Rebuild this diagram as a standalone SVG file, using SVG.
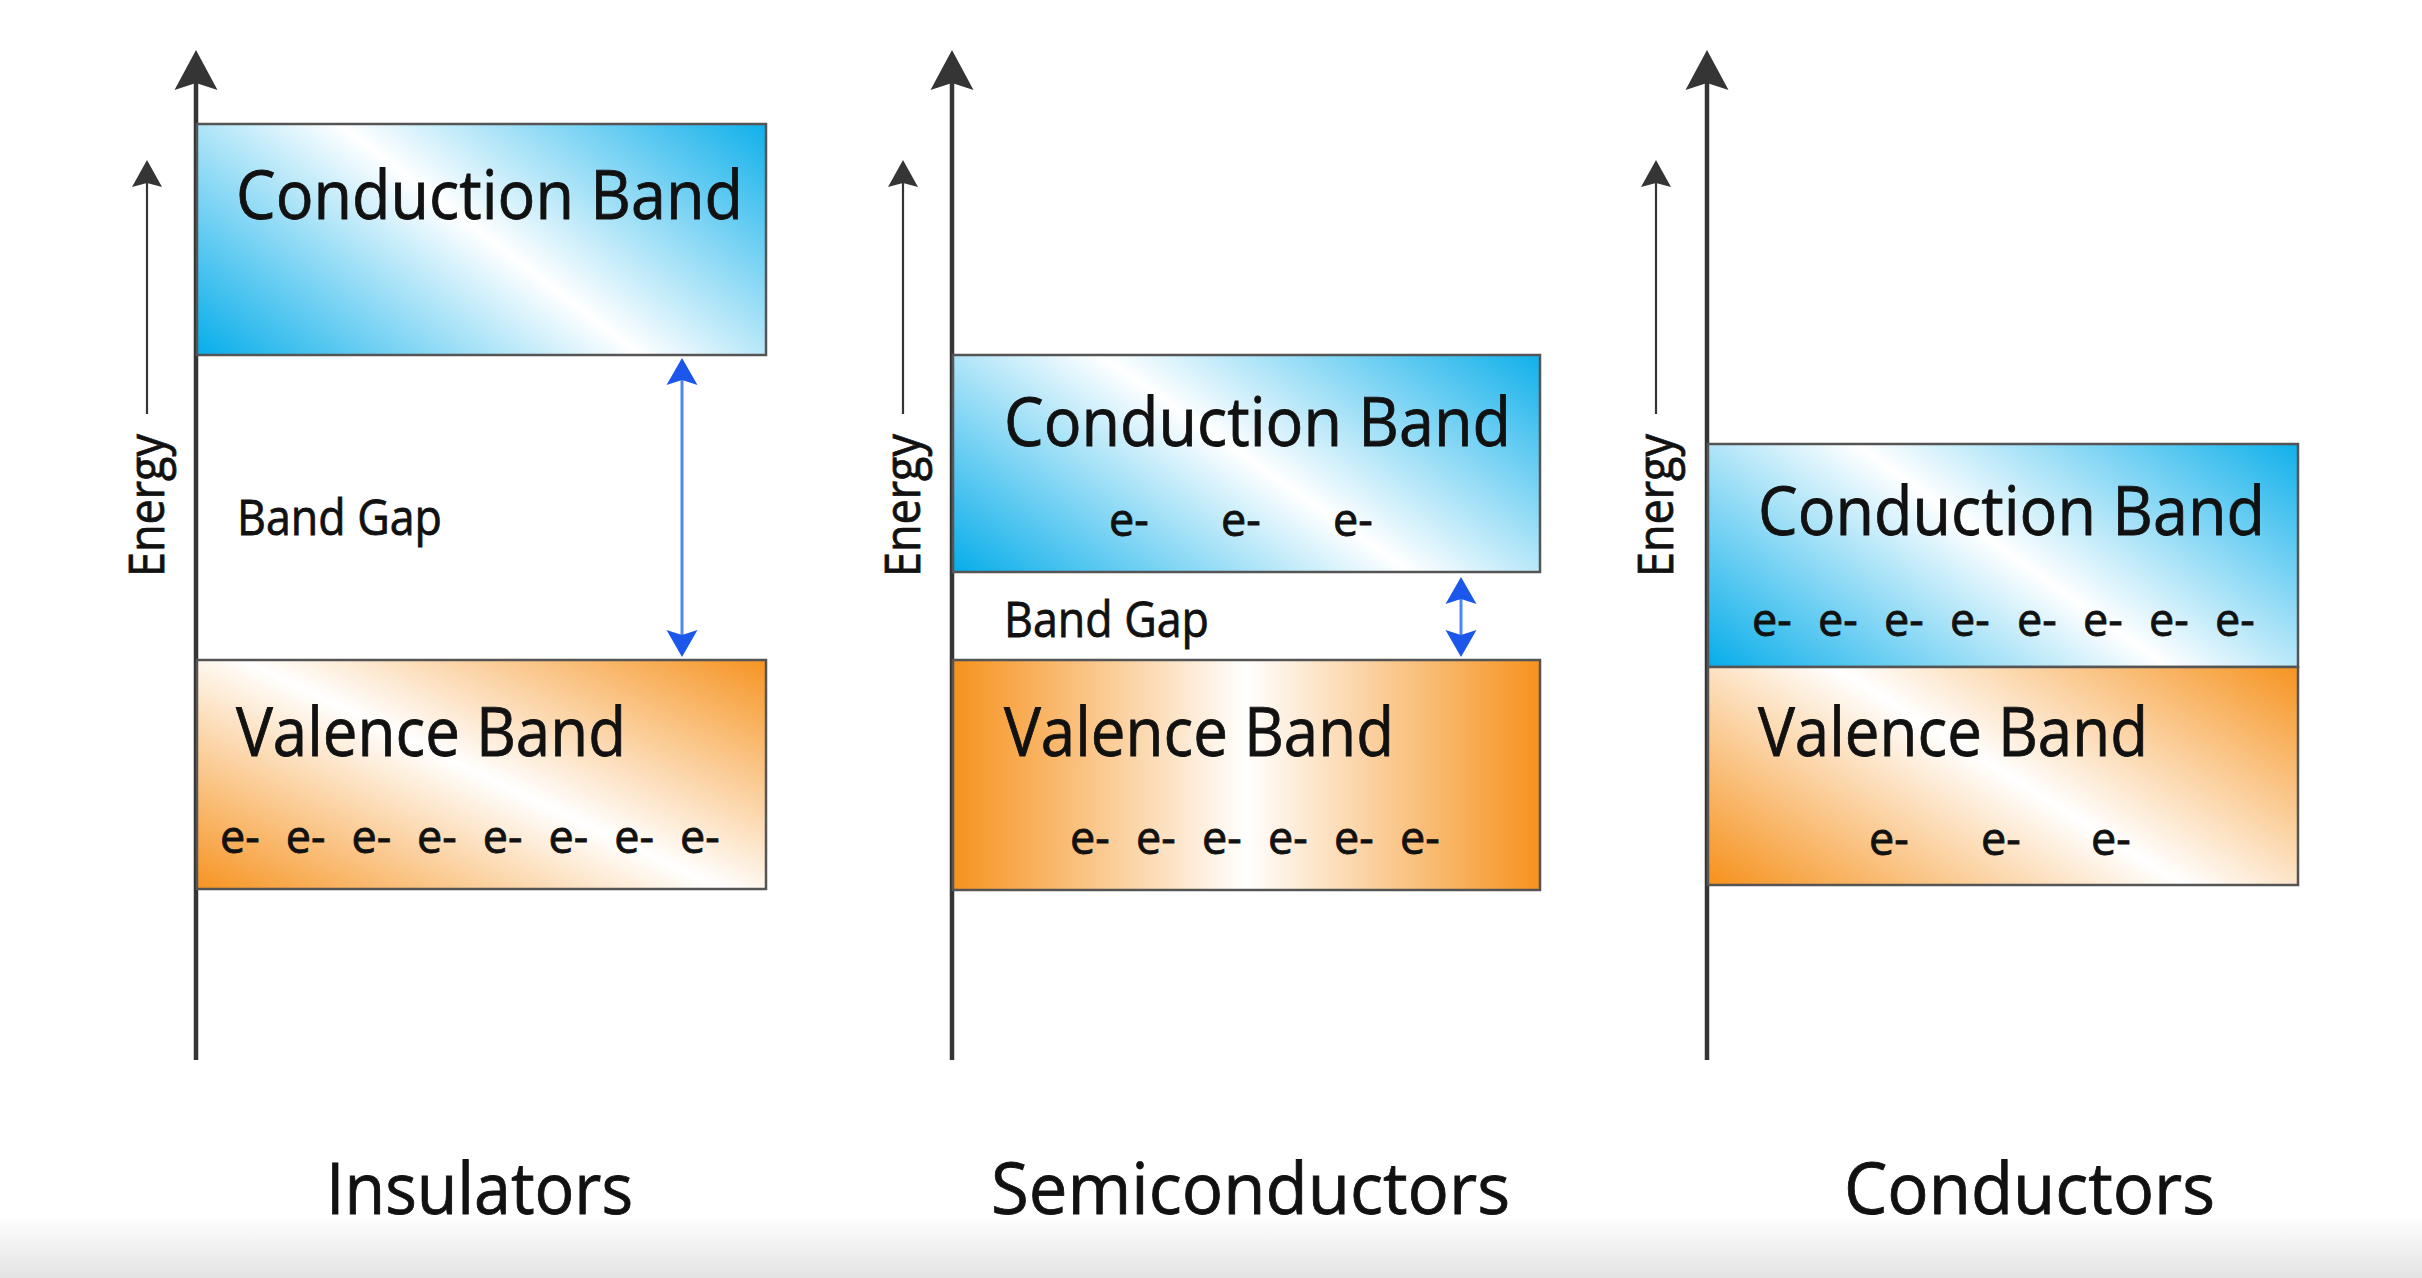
<svg xmlns="http://www.w3.org/2000/svg" width="2422" height="1278" viewBox="0 0 2422 1278">
<defs>
<style>
.axis{stroke:#353535;stroke-width:4.5;fill:none}
.eaxis{stroke:#353535;stroke-width:2.2;fill:none}
.gap{stroke:#4f86ee;stroke-width:3;fill:none}
.band{stroke:#555;stroke-width:2.5}
.lbl{font-family:"Open Sans","Noto Sans",sans-serif;fill:#111;stroke:#111;stroke-width:0.8}
.big{font-size:67px}
.mid{font-size:49px}
.el{font-size:45px}
.ttl{font-size:71px}
</style>
<linearGradient id="gCond" x1="-0.085" y1="0.818" x2="1.115" y2="0.182">
<stop offset="0" stop-color="#0aaeea"/>
<stop offset="0.5" stop-color="#ffffff"/>
<stop offset="1" stop-color="#0aaeea"/>
</linearGradient>
<linearGradient id="gVal" x1="-0.05" y1="0.962" x2="1.05" y2="0.038">
<stop offset="0" stop-color="#f6921e"/>
<stop offset="0.5" stop-color="#ffffff"/>
<stop offset="1" stop-color="#f6921e"/>
</linearGradient>
<linearGradient id="gValC" x1="-0.08" y1="0.85" x2="1.1" y2="0.15">
<stop offset="0" stop-color="#f6921e"/>
<stop offset="0.5" stop-color="#ffffff"/>
<stop offset="1" stop-color="#f6921e"/>
</linearGradient>
<linearGradient id="gValH" x1="0" y1="0" x2="1" y2="0">
<stop offset="0" stop-color="#f6921e"/>
<stop offset="0.5" stop-color="#ffffff"/>
<stop offset="1" stop-color="#f6921e"/>
</linearGradient>
<linearGradient id="gShadow" x1="0" y1="0" x2="0" y2="1">
<stop offset="0" stop-color="#ffffff"/>
<stop offset="1" stop-color="#e3e3e3"/>
</linearGradient>
<marker id="mBig" markerUnits="userSpaceOnUse" viewBox="0 -22 42 44" markerWidth="42" markerHeight="44" refX="7" refY="0" orient="auto">
<path d="M40,0 L0,-21.5 L7,0 L0,21.5 Z" fill="#353535"/>
</marker>
<marker id="mSmall" markerUnits="userSpaceOnUse" viewBox="0 -16 28 32" markerWidth="28" markerHeight="32" refX="4" refY="0" orient="auto">
<path d="M27,0 L0,-15 L4,0 L0,15 Z" fill="#353535"/>
</marker>
<marker id="mBlue" markerUnits="userSpaceOnUse" viewBox="0 -16 28 32" markerWidth="28" markerHeight="32" refX="5" refY="0" orient="auto-start-reverse">
<path d="M27,0 L0,-15.5 L5,0 L0,15.5 Z" fill="#1b57ea"/>
</marker>
</defs>
<rect width="2422" height="1278" fill="#ffffff"/>
<rect y="1215" width="2422" height="63" fill="url(#gShadow)"/>

<g id="connectors">
<line class="axis" x1="196" y1="1060" x2="196" y2="83" marker-end="url(#mBig)"/>
<line class="axis" x1="952" y1="1060" x2="952" y2="83" marker-end="url(#mBig)"/>
<line class="axis" x1="1707" y1="1060" x2="1707" y2="83" marker-end="url(#mBig)"/>
<line class="eaxis" x1="147" y1="414" x2="147" y2="183" marker-end="url(#mSmall)"/>
<line class="eaxis" x1="903" y1="414" x2="903" y2="183" marker-end="url(#mSmall)"/>
<line class="eaxis" x1="1656" y1="414" x2="1656" y2="183" marker-end="url(#mSmall)"/>
<line class="gap" x1="682" y1="380" x2="682" y2="635" marker-start="url(#mBlue)" marker-end="url(#mBlue)"/>
<line class="gap" x1="1461" y1="599" x2="1461" y2="635" marker-start="url(#mBlue)" marker-end="url(#mBlue)"/>
</g>

<g id="energy-labels">
<text class="lbl mid" transform="translate(164,577) rotate(-90)" textLength="143" lengthAdjust="spacingAndGlyphs">Energy</text>
<text class="lbl mid" transform="translate(920,577) rotate(-90)" textLength="143" lengthAdjust="spacingAndGlyphs">Energy</text>
<text class="lbl mid" transform="translate(1673,577) rotate(-90)" textLength="143" lengthAdjust="spacingAndGlyphs">Energy</text>
</g>

<g id="ins-conduction">
<rect class="band" x="197" y="124" width="569" height="231" fill="url(#gCond)"/>
<text class="lbl big" x="236" y="219" textLength="507" lengthAdjust="spacingAndGlyphs">Conduction Band</text>
</g>
<g id="ins-gap">
<text class="lbl mid" x="237" y="535" textLength="205" lengthAdjust="spacingAndGlyphs">Band Gap</text>
</g>
<g id="ins-valence">
<rect class="band" x="197" y="660" width="569" height="229" fill="url(#gVal)"/>
<text class="lbl big" x="236" y="756" textLength="390" lengthAdjust="spacingAndGlyphs">Valence Band</text>
<text class="lbl el" y="853"><tspan x="220">e-</tspan><tspan x="285.7">e-</tspan><tspan x="351.4">e-</tspan><tspan x="417.1">e-</tspan><tspan x="482.8">e-</tspan><tspan x="548.5">e-</tspan><tspan x="614.2">e-</tspan><tspan x="679.9">e-</tspan></text>
</g>

<g id="semi-conduction">
<rect class="band" x="953" y="355" width="587" height="217" fill="url(#gCond)"/>
<text class="lbl big" x="1004" y="446" textLength="507" lengthAdjust="spacingAndGlyphs">Conduction Band</text>
<text class="lbl el" y="536"><tspan x="1109">e-</tspan><tspan x="1221">e-</tspan><tspan x="1333">e-</tspan></text>
</g>
<g id="semi-gap">
<text class="lbl mid" x="1004" y="637" textLength="205" lengthAdjust="spacingAndGlyphs">Band Gap</text>
</g>
<g id="semi-valence">
<rect class="band" x="953" y="660" width="587" height="230" fill="url(#gValH)"/>
<text class="lbl big" x="1004" y="756" textLength="390" lengthAdjust="spacingAndGlyphs">Valence Band</text>
<text class="lbl el" y="854"><tspan x="1070">e-</tspan><tspan x="1136">e-</tspan><tspan x="1202">e-</tspan><tspan x="1268">e-</tspan><tspan x="1334">e-</tspan><tspan x="1400">e-</tspan></text>
</g>

<g id="cond-conduction">
<rect class="band" x="1708" y="444" width="590" height="223" fill="url(#gCond)"/>
<text class="lbl big" x="1758" y="535" textLength="507" lengthAdjust="spacingAndGlyphs">Conduction Band</text>
<text class="lbl el" y="636"><tspan x="1752">e-</tspan><tspan x="1818">e-</tspan><tspan x="1884">e-</tspan><tspan x="1950">e-</tspan><tspan x="2017">e-</tspan><tspan x="2083">e-</tspan><tspan x="2149">e-</tspan><tspan x="2215">e-</tspan></text>
</g>
<g id="cond-valence">
<rect class="band" x="1708" y="667" width="590" height="218" fill="url(#gValC)"/>
<text class="lbl big" x="1758" y="756" textLength="390" lengthAdjust="spacingAndGlyphs">Valence Band</text>
<text class="lbl el" y="855"><tspan x="1869">e-</tspan><tspan x="1981">e-</tspan><tspan x="2091">e-</tspan></text>
</g>

<g id="titles">
<text class="lbl ttl" x="326" y="1214" textLength="307" lengthAdjust="spacingAndGlyphs">Insulators</text>
<text class="lbl ttl" x="991" y="1214" textLength="519" lengthAdjust="spacingAndGlyphs">Semiconductors</text>
<text class="lbl ttl" x="1844" y="1214" textLength="371" lengthAdjust="spacingAndGlyphs">Conductors</text>
</g>
</svg>
